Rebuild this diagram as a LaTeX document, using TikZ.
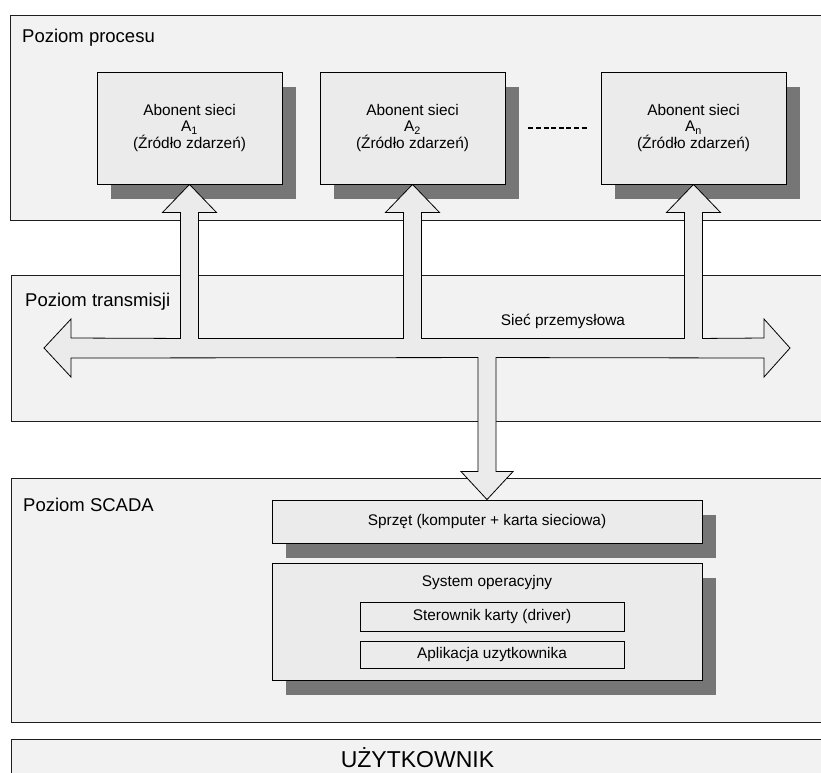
\documentclass[tikz,border=0pt]{standalone}
\usepackage{fontspec}
\setmainfont{Liberation Sans}
\usetikzlibrary{calc,shadows}
\definecolor{panelfill}{HTML}{F2F2F2}
\definecolor{boxfill}{HTML}{EBEBEB}
\definecolor{shadowc}{HTML}{767676}
\definecolor{edgec}{HTML}{1E1E1E}
\begin{document}
\begin{tikzpicture}[x=1pt,y=-1pt,
  panelbox/.style={draw=edgec, line width=0.9pt, fill=panelfill},
  paneltitle/.style={anchor=base west, inner sep=0pt, font=\fontsize{18.5}{20}\selectfont},
  boxtext/.style={font=\fontsize{15.4}{16.8}\selectfont},
  shbox/.style={draw=black, line width=0.9pt, fill=boxfill, inner sep=0pt, align=center, boxtext,
    general shadow={fill=shadowc, shadow xshift=13.5pt, shadow yshift=-14.5pt}},
  plainbox/.style={draw=black, line width=0.9pt, fill=boxfill, inner sep=0pt, align=center, boxtext},
  arrowshape/.style={draw=black, line width=0.8pt, fill=boxfill, line join=miter}]
\useasboundingbox (0,0) rectangle (821,772);
\clip (0,0) rectangle (821,772);
\fill[white] (0,0) rectangle (821,772);

% panels
\draw[panelbox] (10,15) rectangle (840,220);
\node[paneltitle] (tproc) at (22,42) {Poziom procesu};
\draw[panelbox] (11,275) rectangle (840,421);
\node[paneltitle] (ttrans) at (25,306.5) {Poziom transmisji};
\draw[panelbox] (11,478) rectangle (840,722);
\node[paneltitle] (tscada) at (23,511) {Poziom SCADA};
\draw[panelbox] (11,739) rectangle (840,800);
\node[anchor=base, inner sep=0pt, font=\fontsize{23}{25}\selectfont] (user) at (417.5,767) {UŻYTKOWNIK};

% process level boxes
\node[shbox, minimum width=185pt, minimum height=112pt] (A1) at (189.5,128) {Abonent sieci\\A\textsubscript{1}\\(Źródło zdarzeń)};
\node[shbox, minimum width=185pt, minimum height=112pt] (A2) at (412.5,128) {Abonent sieci\\A\textsubscript{2}\\(Źródło zdarzeń)};
\node[shbox, minimum width=185pt, minimum height=112pt] (An) at (693.5,128) {Abonent sieci\\A\textsubscript{n}\\(Źródło zdarzeń)};
\draw[dash pattern=on 5pt off 2.6pt, line width=1.6pt] ($(A2.east)+(23,0)$) -- ($(An.west)+(-13,0)$);

% SCADA level boxes
\node[shbox, minimum width=430pt, minimum height=43pt] (S1) at (487,521.5) {Sprzęt (komputer + karta sieciowa)};
\node[shbox, minimum width=430pt, minimum height=117pt] (S2) at (487,621.5) {};
\node[boxtext, inner sep=0pt] (S2t) at (487,583) {System operacyjny};
\node[plainbox, minimum width=264pt, minimum height=29pt] (S3) at (492,616.5) {Sterownik karty (driver)};
\node[plainbox, minimum width=264pt, minimum height=27pt] (S4) at (492,654.5) {Aplikacja uzytkownika};

% network bus block arrow
\coordinate (busL) at (44,348);
\coordinate (busR) at (790,348);
\path[arrowshape]
 (busL) -- ($(busL)+(27,-29)$) -- ($(busL)+(27,-10)$)
 -- ($(A1.south)+(-9,154)$) -- ($(A1.south)+(-9,28)$) -- ($(A1.south)+(-27,28)$) -- (A1.south)
 -- ($(A1.south)+(27,28)$) -- ($(A1.south)+(9,28)$) -- ($(A1.south)+(9,154)$)
 -- ($(A2.south)+(-9,154)$) -- ($(A2.south)+(-9,28)$) -- ($(A2.south)+(-27,28)$) -- (A2.south)
 -- ($(A2.south)+(27,28)$) -- ($(A2.south)+(9,28)$) -- ($(A2.south)+(9,154)$)
 -- ($(An.south)+(-9,154)$) -- ($(An.south)+(-9,28)$) -- ($(An.south)+(-27,28)$) -- (An.south)
 -- ($(An.south)+(27,28)$) -- ($(An.south)+(9,28)$) -- ($(An.south)+(9,154)$)
 -- ($(busR)+(-26,-10)$) -- ($(busR)+(-26,-29)$) -- (busR) -- ($(busR)+(-26,29)$) -- ($(busR)+(-26,10)$)
 -- ($(S1.north)+(9,-142)$) -- ($(S1.north)+(9,-28)$) -- ($(S1.north)+(26,-28)$) -- (S1.north)
 -- ($(S1.north)+(-26,-28)$) -- ($(S1.north)+(-9,-28)$) -- ($(S1.north)+(-9,-142)$)
 -- ($(busL)+(27,10)$) -- ($(busL)+(27,29)$) -- cycle;
\node[boxtext, inner sep=0pt] (net) at (563,321) {Sieć przemysłowa};
\end{tikzpicture}
\end{document}
